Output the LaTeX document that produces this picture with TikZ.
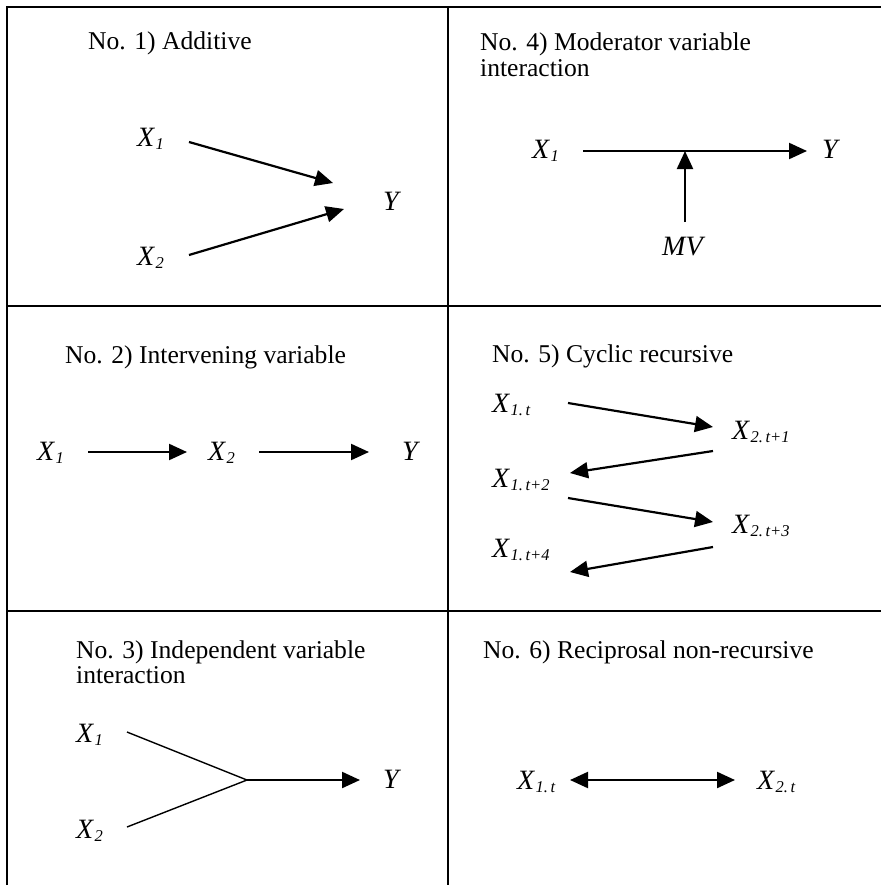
\documentclass[tikz,border=0pt]{standalone}
\usepackage{fontspec}
\setmainfont{Liberation Serif}
\usetikzlibrary{arrows.meta}
\newcommand{\myvar}[2]{\textit{#1}\kern0.3pt\raisebox{-3pt}{\fontsize{16.5}{16.5}\selectfont\itshape #2}}
\begin{document}
\begin{tikzpicture}[x=1pt,y=-1pt,
  ttl/.style={anchor=base west, inner sep=0pt, font=\fontsize{25.6}{25.6}\selectfont},
  var/.style={anchor=base west, inner sep=0pt, font=\fontsize{28}{28}\selectfont},
  arr/.style={line width=2.2pt, -{Triangle[length=18pt,width=16pt]}},
  darr/.style={line width=2.2pt, {Triangle[length=18pt,width=16pt]}-{Triangle[length=18pt,width=16pt]}},
  gridline/.style={line width=2pt},
  thinline/.style={line width=1.4pt}]
\useasboundingbox (0,0) rectangle (881,886);
% grid
\draw[gridline] (7,885) -- (7,7) -- (881,7);
\draw[gridline] (448,7) -- (448,885);
\draw[gridline] (7,306) -- (881,306);
\draw[gridline] (7,611) -- (881,611);

% Cell 1
\node[ttl] (t1) at (88,49) {No. 1) Additive};
\node[var] (a1) at (137,146) {\myvar{X}{1}};
\node[var] (a2) at (137,265) {\myvar{X}{2}};
\node[var] (ay) at (383,210) {\textit{Y}};
\coordinate (a1s) at (189,142); \coordinate (a1e) at (333,183);
\coordinate (a2s) at (189,255); \coordinate (a2e) at (344,209);
\draw[arr] (a1s) -- (a1e);
\draw[arr] (a2s) -- (a2e);

% Cell 4
\node[ttl] (t4a) at (480,50) {No. 4) Moderator variable};
\node[ttl] (t4b) at (480,76) {interaction};
\node[var] (d1) at (532,158) {\myvar{X}{1}};
\node[var] (dy) at (822,158) {\textit{Y}};
\node[var] (dm) at (662,255) {\textit{MV}};
\coordinate (d1s) at (583,151); \coordinate (d1e) at (807,151);
\coordinate (dms) at (685,222); \coordinate (dme) at (685,151);
\draw[arr] (d1s) -- (d1e);
\draw[arr] (dms) -- (dme);

% Cell 2
\node[ttl] (t2) at (65,363) {No. 2) Intervening variable};
\node[var] (b1) at (37,460) {\myvar{X}{1}};
\node[var] (b2) at (208,460) {\myvar{X}{2}};
\node[var] (by) at (402,460) {\textit{Y}};
\coordinate (b1s) at (88,452); \coordinate (b1e) at (187,452);
\coordinate (b2s) at (259,452); \coordinate (b2e) at (369,452);
\draw[arr] (b1s) -- (b1e);
\draw[arr] (b2s) -- (b2e);

% Cell 5
\node[ttl] (t5) at (492,362) {No. 5) Cyclic recursive};
\node[var] (e1) at (492,412) {\myvar{X}{1.\,t}};
\node[var] (e2) at (732,439) {\myvar{X}{2.\,t+1}};
\node[var] (e3) at (492,487) {\myvar{X}{1.\,t+2}};
\node[var] (e4) at (732,533) {\myvar{X}{2.\,t+3}};
\node[var] (e5) at (492,557) {\myvar{X}{1.\,t+4}};
\coordinate (e1s) at (568,403); \coordinate (e1e) at (713,427);
\coordinate (e2s) at (713,451); \coordinate (e2e) at (570,473);
\coordinate (e3s) at (568,498); \coordinate (e3e) at (713,522);
\coordinate (e4s) at (713,547); \coordinate (e4e) at (570,572);
\draw[arr] (e1s) -- (e1e);
\draw[arr] (e2s) -- (e2e);
\draw[arr] (e3s) -- (e3e);
\draw[arr] (e4s) -- (e4e);

% Cell 3
\node[ttl] (t3a) at (76,658) {No. 3) Independent variable};
\node[ttl] (t3b) at (76,683) {interaction};
\node[var] (c1) at (76,742) {\myvar{X}{1}};
\node[var] (c2) at (76,838) {\myvar{X}{2}};
\node[var] (cy) at (383,788) {\textit{Y}};
\coordinate (c1s) at (127,732); \coordinate (c2s) at (127,827);
\coordinate (cj) at (247,780); \coordinate (ce) at (360,780);
\draw[thinline] (c1s) -- (cj) -- (c2s);
\draw[arr] (cj) -- (ce);

% Cell 6
\node[ttl] (t6) at (483,658) {No. 6) Reciprosal non-recursive};
\node[var] (f1) at (517,789) {\myvar{X}{1.\,t}};
\node[var] (f2) at (757,789) {\myvar{X}{2.\,t}};
\coordinate (f1e) at (570,780); \coordinate (f2e) at (735,780);
\draw[darr] (f1e) -- (f2e);
\end{tikzpicture}
\end{document}
